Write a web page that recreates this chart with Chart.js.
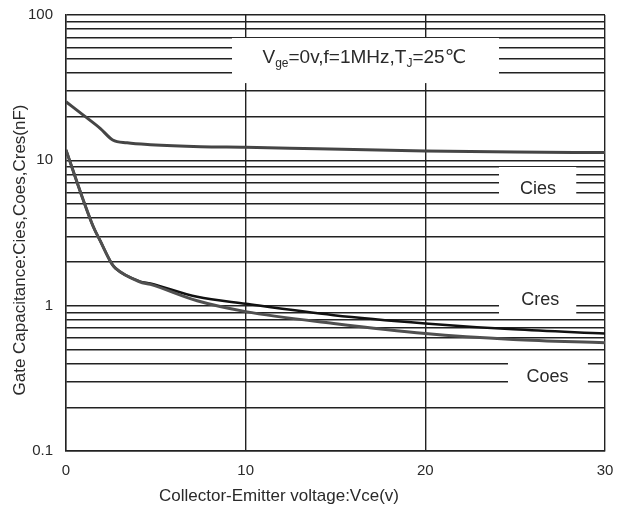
<!DOCTYPE html>
<html>
<head>
<meta charset="utf-8">
<script src="https://cdn.jsdelivr.net/npm/chart.js@4.4.0/dist/chart.umd.min.js"></script>
<style>
  body { margin: 0; background: #fff; }
  canvas { display: block; }
</style>
</head>
<body>
<canvas id="chartCanvas" width="620" height="508"></canvas>
<script>
// values (Vce in volts, capacitance in nF)
const ciesVce = [0, 1, 1.9, 2.6, 3.4, 4.7, 7.5, 10, 14, 20, 25, 30];
const ciesCap = [25.3, 20.3, 16.6, 13.8, 13.2, 12.8, 12.4, 12.3, 12.0, 11.6, 11.4, 11.3];

const lowVce = [0, 0.96, 1.52, 1.9, 2.54, 2.75, 4.1, 4.7, 7.3, 10, 14.9, 20, 24.9, 30];
const cresCap = [11.8, 5.33, 3.49, 2.8, 1.95, 1.81, 1.47, 1.42, 1.15, 1.03, 0.86, 0.755, 0.687, 0.644];
const coesCap = [11.8, 5.33, 3.49, 2.8, 1.95, 1.81, 1.46, 1.40, 1.08, 0.91, 0.755, 0.644, 0.586, 0.556];

const seriesNames = ['Cies', 'Cres', 'Coes'];
const yGridTicks = [0.1, 0.2, 0.3, 0.4, 0.5, 0.6, 0.7, 0.8, 0.9,
                    1, 2, 3, 4, 5, 6, 7, 8, 9,
                    10, 20, 30, 40, 50, 60, 70, 80, 90, 100];
const yLabelTicks = [0.1, 1, 10, 100];
const xTicks = [0, 10, 20, 30];

const FONT = '"Liberation Sans", Arial, "DejaVu Sans", sans-serif';
const TEXT = '#2a2a2a';

function pts(xs, ys) {
    return xs.map((v, i) => ({ x: v, y: ys[i] }));
}

function noPad(s) {
    s.paddingTop = 0;
    s.paddingBottom = 0;
    s.paddingLeft = 0;
    s.paddingRight = 0;
}

// white gaps behind the in-plot labels, in data units [x0, x1, yTop, yBottom]
const gaps = [
    [9.24, 24.1, 69.5, 34],
    [24.1, 28.4, 9.0, 5.5],
    [24.1, 28.4, 1.18, 0.86],
    [24.6, 29.05, 0.48, 0.243]
];

let notes = {
    id: 'notes',
    beforeDatasetsDraw(chart) {
        let { ctx, scales: { x, y } } = chart;
        ctx.save();
        ctx.fillStyle = '#fff';
        gaps.forEach(g => {
            let l = x.getPixelForValue(g[0]), r = x.getPixelForValue(g[1]);
            let t = y.getPixelForValue(g[2]), b = y.getPixelForValue(g[3]);
            ctx.fillRect(l, t, r - l, b - t);
        });

        // curve names
        ctx.fillStyle = TEXT;
        ctx.font = '18px ' + FONT;
        ctx.textAlign = 'center';
        ctx.textBaseline = 'middle';
        let spots = [[26.27, 6.35], [26.4, 1.09], [26.8, 0.323]];
        seriesNames.forEach((n, i) => {
            ctx.fillText(n, x.getPixelForValue(spots[i][0]), y.getPixelForValue(spots[i][1]));
        });

        // test condition, with subscripts
        let parts = [['V', 19, 0], ['ge', 12, 4], ['=0v,f=1MHz,T', 19, 0], ['J', 12, 4], ['=25\u2103', 19, 0]];
        ctx.textAlign = 'left';
        ctx.textBaseline = 'alphabetic';
        let total = 0;
        parts.forEach(p => { ctx.font = p[1] + 'px ' + FONT; total += ctx.measureText(p[0]).width; });
        let cx = x.getPixelForValue(16.6) - total / 2;
        let base = y.getPixelForValue(47);
        parts.forEach(p => {
            ctx.font = p[1] + 'px ' + FONT;
            ctx.fillText(p[0], cx, base + p[2]);
            cx += ctx.measureText(p[0]).width;
        });
        ctx.restore();
    },
    afterDraw(chart) {
        let ctx = chart.ctx;
        ctx.save();
        ctx.fillStyle = TEXT;
        ctx.font = '17px ' + FONT;
        ctx.textAlign = 'center';
        ctx.textBaseline = 'middle';
        ctx.fillText('Collector-Emitter voltage:Vce(v)', 279, 496);
        ctx.translate(20, 250);
        ctx.rotate(-Math.PI / 2);
        ctx.fillText('Gate Capacitance:Cies,Coes,Cres(nF)', 0, 0);
        ctx.restore();
    }
};

let ctx = document.getElementById('chartCanvas').getContext('2d');
let chart = new Chart(ctx, {
    type: 'line',
    data: {
        datasets: [{
            label: seriesNames[0],
            data: pts(ciesVce, ciesCap),
            borderColor: '#454545',
            borderWidth: 3
        }, {
            label: seriesNames[2],
            data: pts(lowVce, coesCap),
            borderColor: '#505050',
            borderWidth: 3
        }, {
            label: seriesNames[1],
            data: pts(lowVce, cresCap),
            borderColor: '#111',
            borderWidth: 2.5
        }]
    },
    options: {
        responsive: false,
        animation: false,
        devicePixelRatio: 1,
        layout: { padding: { top: 15, right: 15, left: 0, bottom: 0 } },
        elements: {
            point: { radius: 0 },
            line: { cubicInterpolationMode: 'monotone', fill: false }
        },
        plugins: {
            legend: { display: false },
            tooltip: { enabled: false }
        },
        scales: {
            x: {
                type: 'linear',
                min: 0,
                max: 30,
                afterBuildTicks: s => { s.ticks = xTicks.map(v => ({ value: v })); },
                afterFit: s => { s.height = 57; noPad(s); },
                ticks: { color: TEXT, font: { family: FONT, size: 15 }, padding: 11, maxRotation: 0 },
                grid: { color: '#222', lineWidth: 1.4, drawTicks: false },
                border: { color: '#222', width: 1.4 }
            },
            y: {
                type: 'logarithmic',
                min: 0.1,
                max: 100,
                afterBuildTicks: s => { s.ticks = yGridTicks.map(v => ({ value: v })); },
                afterFit: s => { s.width = 66; noPad(s); },
                ticks: {
                    autoSkip: false,
                    color: TEXT,
                    font: { family: FONT, size: 15 },
                    padding: 13,
                    callback: v => yLabelTicks.includes(v) ? String(v) : ''
                },
                grid: { color: '#222', lineWidth: 1.4, drawTicks: false },
                border: { color: '#222', width: 1.4 }
            }
        }
    },
    plugins: [notes]
});
</script>
</body>
</html>
